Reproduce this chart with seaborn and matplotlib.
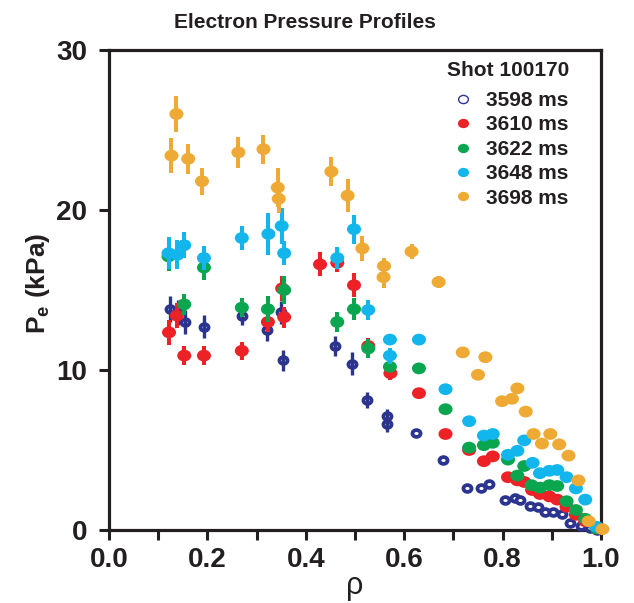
import numpy as np
import pandas as pd
import matplotlib
matplotlib.use("Agg")
import matplotlib.pyplot as plt
from matplotlib import font_manager
from matplotlib.path import Path
from matplotlib.lines import Line2D
from matplotlib.ticker import MultipleLocator, FormatStrFormatter
import seaborn as sns

# ---- data (rho, Pe in kPa, half error bar) ----
rho_3598 = [0.124, 0.140, 0.155, 0.193, 0.270, 0.322, 0.349, 0.354, 0.460, 0.494,
            0.525, 0.566, 0.566, 0.624, 0.679, 0.728, 0.757, 0.773, 0.805, 0.826,
            0.836, 0.856, 0.871, 0.886, 0.903, 0.920, 0.938, 0.959, 0.978, 0.991]
pe_3598 = [13.8, 13.6, 13.0, 12.7, 13.4, 12.5, 13.6, 10.6, 11.5, 10.4,
           8.1, 7.1, 6.6, 6.05, 4.4, 2.65, 2.6, 2.85, 1.9, 2.0,
           1.85, 1.5, 1.45, 1.1, 1.1, 1.0, 0.45, 0.27, 0.1, 0.0]
err_3598 = [0.83, 0.8, 0.73, 0.73, 0.6, 0.7, 0.7, 0.65, 0.65, 0.7,
            0.5, 0.45, 0.45, 0, 0, 0, 0, 0, 0, 0,
            0, 0, 0, 0, 0, 0, 0, 0, 0, 0]

rho_3610 = [0.122, 0.138, 0.153, 0.193, 0.270, 0.323, 0.352, 0.356, 0.429, 0.464,
            0.498, 0.527, 0.572, 0.630, 0.684, 0.732, 0.762, 0.780, 0.811, 0.830,
            0.844, 0.860, 0.876, 0.895, 0.911, 0.930, 0.949, 0.968, 0.991]
pe_3610 = [12.35, 13.4, 10.9, 10.9, 11.2, 13.0, 15.1, 13.3, 16.6, 16.7,
           15.3, 11.5, 9.8, 8.55, 6.0, 5.0, 4.3, 4.6, 3.3, 3.1,
           3.0, 2.5, 2.25, 2.1, 1.9, 1.45, 0.95, 0.55, 0.1]
err_3610 = [0.8, 0.8, 0.6, 0.6, 0.55, 0.6, 0.8, 0.65, 0.75, 0.6,
            0.75, 0.5, 0.4, 0, 0, 0, 0, 0, 0, 0,
            0, 0, 0, 0, 0, 0, 0, 0, 0]

rho_3622 = [0.121, 0.153, 0.193, 0.270, 0.323, 0.356, 0.464, 0.498, 0.527, 0.571,
            0.630, 0.684, 0.732, 0.762, 0.780, 0.811, 0.830, 0.844, 0.859, 0.876,
            0.895, 0.911, 0.930, 0.949, 0.968, 0.991]
pe_3622 = [17.1, 14.1, 16.4, 13.9, 13.8, 15.0, 13.0, 13.8, 11.35, 10.2,
           10.1, 7.55, 5.15, 5.3, 5.45, 4.4, 3.4, 4.0, 2.8, 2.65,
           2.8, 2.75, 1.8, 1.25, 0.7, 0.1]
err_3622 = [0.9, 0.65, 0.75, 0.6, 0.8, 0.85, 0.6, 0.7, 0.6, 0,
            0, 0, 0, 0, 0, 0, 0, 0, 0, 0,
            0, 0, 0, 0, 0, 0]

rho_3648 = [0.121, 0.139, 0.153, 0.193, 0.270, 0.324, 0.351, 0.356, 0.464, 0.498,
            0.527, 0.571, 0.571, 0.630, 0.684, 0.732, 0.762, 0.780, 0.811, 0.830,
            0.844, 0.861, 0.876, 0.895, 0.911, 0.930, 0.949, 0.968, 0.991]
pe_3648 = [17.3, 17.2, 17.8, 17.0, 18.25, 18.5, 19.0, 17.3, 17.0, 18.8,
           13.75, 11.9, 10.9, 11.9, 8.8, 6.8, 5.9, 6.0, 4.7, 4.95,
           5.6, 4.2, 3.55, 3.7, 3.75, 3.3, 2.6, 1.9, 0.2]
err_3648 = [1.0, 0.9, 0.8, 0.75, 0.77, 1.3, 1.15, 0.75, 0.7, 0.9,
            0.6, 0, 0.5, 0, 0, 0, 0, 0, 0, 0,
            0, 0, 0, 0, 0, 0, 0, 0, 0]

rho_3698 = [0.127, 0.137, 0.161, 0.189, 0.263, 0.314, 0.343, 0.345, 0.452, 0.485,
            0.515, 0.559, 0.558, 0.615, 0.670, 0.719, 0.765, 0.750, 0.799, 0.819,
            0.830, 0.847, 0.863, 0.897, 0.880, 0.915, 0.934, 0.954, 0.975, 1.003]
pe_3698 = [23.4, 26.0, 23.2, 21.8, 23.6, 23.8, 21.4, 20.7, 22.4, 20.9,
           17.6, 16.5, 15.8, 17.4, 15.5, 11.1, 10.8, 9.7, 8.05, 8.2,
           8.85, 7.4, 6.0, 6.0, 5.4, 5.35, 4.65, 3.1, 0.55, 0.05]
err_3698 = [1.1, 1.15, 0.95, 0.85, 0.95, 0.9, 1.2, 0.9, 0.9, 1.05,
            0.77, 0.5, 0.7, 0.45, 0.4, 0, 0, 0, 0, 0,
            0, 0, 0, 0, 0, 0, 0, 0, 0, 0]

times = ["3598 ms", "3610 ms", "3622 ms", "3648 ms", "3698 ms"]
colors = ["#2b3590", "#ec2227", "#0aa64f", "#12b6ec", "#eeaa35"]

series = [(rho_3598, pe_3598, err_3598), (rho_3610, pe_3610, err_3610),
          (rho_3622, pe_3622, err_3622), (rho_3648, pe_3648, err_3648),
          (rho_3698, pe_3698, err_3698)]
df = pd.concat([pd.DataFrame({"time": t, "rho": r, "pe": p, "err": e})
                for t, (r, p, e) in zip(times, series)], ignore_index=True)

sns.set_style("ticks")
names = {f.name for f in font_manager.fontManager.ttflist}
main_font = "Liberation Sans Narrow" if "Liberation Sans Narrow" in names else "Liberation Sans"
plt.rcParams["font.family"] = [main_font, "DejaVu Sans"]
plt.rcParams["mathtext.fontset"] = "custom"
plt.rcParams["mathtext.rm"] = main_font
plt.rcParams["mathtext.bf"] = main_font + ":bold"
ink = "#231f20"

# slightly flattened dot, like the original plot
circ = Path.unit_circle()
ellipse = Path(circ.vertices * np.array([1.0, 0.84]), circ.codes)

fig = plt.figure(figsize=(6.34, 6.03), dpi=100)
ax = fig.add_axes([109 / 634, 1 - 530 / 603, 492 / 634, 480 / 603])

for i, (t, c) in enumerate(zip(times, colors)):
    d = df[df["time"] == t]
    z = 3 + 2 * i
    bars = d[d["err"] > 0]
    if i == 0:
        # open rings, error bar drawn across them
        sns.scatterplot(data=d, x="rho", y="pe", ax=ax, marker=ellipse, s=34,
                        facecolor="white", edgecolor=c, linewidth=2.7,
                        zorder=z, clip_on=False, legend=False)
        ax.errorbar(bars["rho"], bars["pe"], yerr=bars["err"], fmt="none",
                    ecolor=c, elinewidth=2.4, capsize=0, zorder=z + 1)
    else:
        ax.errorbar(bars["rho"], bars["pe"], yerr=bars["err"], fmt="none",
                    ecolor=c, elinewidth=2.9, capsize=0, zorder=z)
        sns.scatterplot(data=d, x="rho", y="pe", ax=ax, marker=ellipse, s=102,
                        color=c, edgecolor="none", linewidth=0,
                        zorder=z + 1, clip_on=False, legend=False)

ax.set_xlim(0, 1.0)
ax.set_ylim(0, 30)
ax.xaxis.set_major_locator(MultipleLocator(0.2))
ax.xaxis.set_minor_locator(MultipleLocator(0.1))
ax.yaxis.set_major_locator(MultipleLocator(10))
ax.xaxis.set_major_formatter(FormatStrFormatter("%.1f"))
for sp in ax.spines.values():
    sp.set_linewidth(2.3)
    sp.set_color(ink)
ax.tick_params(axis="both", which="both", direction="out", length=7.5, width=2.2,
               color=ink, labelcolor=ink)
ax.tick_params(axis="x", which="major", pad=5, labelsize=20)
ax.tick_params(axis="y", which="major", pad=8, labelsize=20)
for lab in ax.get_xticklabels() + ax.get_yticklabels():
    lab.set_fontweight("bold")

ax.set_xlabel("\u03c1", fontsize=22, color=ink)
ax.xaxis.set_label_coords(0.5, -0.085)
ax.set_ylabel(r"P$_\mathbf{e}$ (kPa)", fontsize=19, fontweight="bold", color=ink)
ax.yaxis.set_label_coords(-0.115, 0.515)

fig.text(305 / 634, 1 - 23 / 603, "Electron Pressure Profiles", ha="center",
         va="center", fontsize=15, fontweight="bold", color=ink)

handles = []
for i, c in enumerate(colors):
    if i == 0:
        handles.append(Line2D([], [], marker=ellipse, linestyle="none", markersize=7,
                              markerfacecolor="white", markeredgecolor=c,
                              markeredgewidth=1.0))
    else:
        handles.append(Line2D([], [], marker=ellipse, linestyle="none", markersize=8,
                              color=c, markeredgewidth=0))
leg = ax.legend(handles, times, loc="upper right",
                bbox_to_anchor=(0.95, 0.932), frameon=False, fontsize=15,
                labelspacing=0.26, handletextpad=0.5, handlelength=1.2,
                borderaxespad=0)
for txt in leg.get_texts():
    txt.set_fontweight("bold")
    txt.set_color(ink)
fig.text(508 / 634, 1 - 71 / 603, "Shot 100170", ha="center", va="center",
         fontsize=15, fontweight="bold", color=ink)

fig.savefig("out.png", dpi=100)
